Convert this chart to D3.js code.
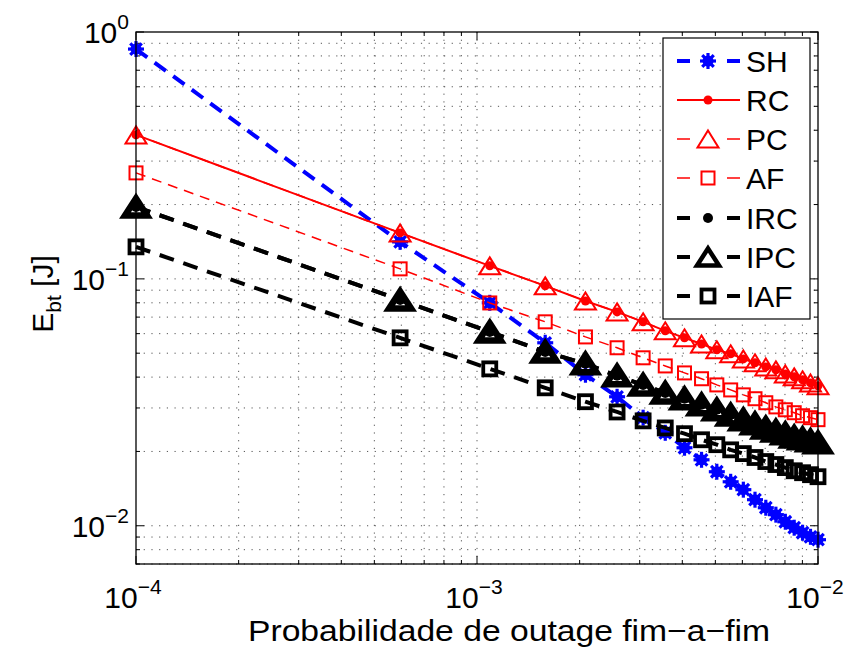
<!DOCTYPE html>
<html><head><meta charset="utf-8">
<script src="https://cdn.jsdelivr.net/npm/d3@7"></script>
<style>body{margin:0;background:#fff}svg{display:block}text{font-family:"Liberation Sans",Arial,sans-serif}</style>
</head><body>
<svg id="c" width="851" height="654"></svg>
<script>
const xValues = [1e-4, 5.95e-4, 1.09e-3, 1.585e-3, 2.08e-3, 2.575e-3, 3.07e-3, 3.565e-3, 4.06e-3, 4.555e-3, 5.05e-3, 5.545e-3, 6.04e-3, 6.535e-3, 7.03e-3, 7.525e-3, 8.02e-3, 8.515e-3, 9.01e-3, 9.505e-3, 1e-2];
const SH  = [0.853, 0.1412, 0.0800, 0.0551, 0.0409, 0.0333, 0.0274, 0.0238, 0.0207, 0.0185, 0.01655, 0.01507, 0.0140, 0.01275, 0.01183, 0.01109, 0.01038, 0.00982, 0.00937, 0.00902, 0.00878];
const RC  = [0.383, 0.1535, 0.1129, 0.0937, 0.0814, 0.0735, 0.0670, 0.0616, 0.0577, 0.0545, 0.0516, 0.0497, 0.0474, 0.0457, 0.0440, 0.0428, 0.0412, 0.0401, 0.0390, 0.0379, 0.0369];
const PC  = [0.383, 0.1535, 0.1129, 0.0937, 0.0814, 0.0735, 0.0670, 0.0616, 0.0577, 0.0545, 0.0516, 0.0497, 0.0474, 0.0457, 0.0440, 0.0428, 0.0412, 0.0401, 0.0390, 0.0379, 0.0369];
const AF  = [0.2687, 0.1098, 0.0799, 0.0670, 0.0582, 0.0526, 0.0479, 0.0444, 0.0416, 0.0394, 0.0372, 0.0355, 0.0339, 0.0327, 0.0315, 0.0303, 0.0295, 0.0287, 0.0279, 0.0274, 0.0269];
const IRC = [0.1956, 0.0822, 0.0610, 0.0506, 0.0453, 0.0405, 0.0372, 0.0345, 0.0327, 0.0309, 0.0295, 0.0281, 0.0269, 0.0259, 0.0249, 0.0242, 0.0236, 0.0229, 0.0225, 0.0221, 0.0217];
const IPC = [0.1956, 0.0822, 0.0610, 0.0506, 0.0453, 0.0405, 0.0372, 0.0345, 0.0327, 0.0309, 0.0295, 0.0281, 0.0269, 0.0259, 0.0249, 0.0242, 0.0236, 0.0229, 0.0225, 0.0221, 0.0217];
const IAF = [0.1348, 0.0577, 0.0432, 0.0362, 0.0318, 0.0289, 0.0266, 0.0249, 0.0236, 0.0223, 0.0213, 0.0203, 0.0196, 0.0189, 0.0182, 0.0177, 0.0172, 0.0167, 0.0164, 0.0161, 0.0158];
const seriesNames = ["SH", "RC", "PC", "AF", "IRC", "IPC", "IAF"];
const xTickExps = ["−4", "−3", "−2"];
const yTickExps = ["−2", "−1", "0"];
const xLabel = "Probabilidade de outage fim−a−fim";

const svg = d3.select("#c");
const L = 136, R = 818, T = 32, B = 564;
const x = d3.scaleLog().domain([1e-4, 1e-2]).range([L, R]);
const y = d3.scaleLog().domain([0.007, 1]).range([B, T]);

// grid
const xMinor = [];
for (let e = -4; e < -2; e++) for (let m = 1; m < 10; m++) xMinor.push(m * Math.pow(10, e));
xMinor.push(1e-2);
const yMinor = [];
for (let e = -3; e < 0; e++) for (let m = 1; m < 10; m++) { const v = m * Math.pow(10, e); if (v >= 0.007) yMinor.push(v); }
yMinor.push(1);
const grid = svg.append("g").attr("stroke", "#555").attr("stroke-width", 1).attr("stroke-dasharray", "1.2,6.5");
xMinor.filter(v => v > 1e-4 && v < 1e-2).forEach(v => grid.append("line").attr("x1", x(v)).attr("x2", x(v)).attr("y1", T).attr("y2", B));
yMinor.filter(v => v < 1).forEach(v => grid.append("line").attr("x1", L).attr("x2", R).attr("y1", y(v)).attr("y2", y(v)));

// ticks (inward, all sides)
const tk = svg.append("g").attr("stroke", "#000").attr("stroke-width", 1);
const isMajor = v => Math.abs(Math.log10(v) - Math.round(Math.log10(v))) < 1e-9;
xMinor.forEach(v => {
  const len = isMajor(v) ? 8 : 4;
  tk.append("line").attr("x1", x(v)).attr("x2", x(v)).attr("y1", B).attr("y2", B - len);
  tk.append("line").attr("x1", x(v)).attr("x2", x(v)).attr("y1", T).attr("y2", T + len);
});
yMinor.forEach(v => {
  const len = isMajor(v) ? 8 : 4;
  tk.append("line").attr("x1", L).attr("x2", L + len).attr("y1", y(v)).attr("y2", y(v));
  tk.append("line").attr("x1", R).attr("x2", R - len).attr("y1", y(v)).attr("y2", y(v));
});

// axis tick labels
[1e-4, 1e-3, 1e-2].forEach((v, i) => {
  const t = svg.append("text").attr("x", x(v) - 3).attr("y", 608).attr("text-anchor", "middle").attr("font-size", 30);
  t.append("tspan").text("10");
  t.append("tspan").attr("font-size", 21).attr("dy", -14).text(xTickExps[i]);
});
[0.01, 0.1, 1].forEach((v, i) => {
  const t = svg.append("text").attr("x", 129).attr("y", y(v) + 11).attr("text-anchor", "end").attr("font-size", 30);
  t.append("tspan").text("10");
  t.append("tspan").attr("font-size", 21).attr("dy", -14).text(yTickExps[i]);
});

// axis labels
svg.append("text").attr("x", 248).attr("y", 641).attr("font-size", 30)
  .attr("textLength", 522).attr("lengthAdjust", "spacingAndGlyphs").text(xLabel);
const yl = svg.append("text").attr("transform", `translate(53,${(T + B) / 2 - 4}) rotate(-90)`).attr("text-anchor", "middle").attr("font-size", 30);
yl.append("tspan").text("E");
yl.append("tspan").attr("font-size", 21).attr("dy", 8).text("bt");
yl.append("tspan").attr("dy", -8).text(" [J]");

// marker drawing
function marker(g, type, cx, cy, color, sw) {
  if (type === "star") {
    const r = 8;
    [[r, 0], [0, r], [r * 0.72, r * 0.72], [r * 0.72, -r * 0.72]].forEach(([dx, dy]) =>
      g.append("line").attr("x1", cx - dx).attr("y1", cy - dy).attr("x2", cx + dx).attr("y2", cy + dy)
        .attr("stroke", color).attr("stroke-width", sw));
    g.append("circle").attr("cx", cx).attr("cy", cy).attr("r", 5.5).attr("fill", color);
  } else if (type === "dot") {
    g.append("circle").attr("cx", cx).attr("cy", cy).attr("r", sw).attr("fill", color);
  } else if (type === "tri") {
    const w = sw > 2 ? 11 : 10.5, h = 8.5;
    g.append("path").attr("d", `M${cx},${cy - h}L${cx + w},${cy + h}L${cx - w},${cy + h}Z`)
      .attr("fill", "none").attr("stroke", color).attr("stroke-width", sw).attr("stroke-linejoin", "miter");
  } else if (type === "sq") {
    const s = 6.5;
    g.append("rect").attr("x", cx - s).attr("y", cy - s).attr("width", 2 * s).attr("height", 2 * s)
      .attr("fill", "none").attr("stroke", color).attr("stroke-width", sw);
  }
}

const specs = [
  { name: "SH", data: SH, color: "#0000ff", lw: 4, dash: "14,9", mk: "star", msw: 3.2 },
  { name: "RC", data: RC, color: "#ff0000", lw: 2, dash: null, mk: "dot", msw: 4.5 },
  { name: "PC", data: PC, color: "#ff0000", lw: 1.5, dash: "10,7", mk: "tri", msw: 2 },
  { name: "AF", data: AF, color: "#ff0000", lw: 1.5, dash: "10,7", mk: "sq", msw: 2 },
  { name: "IRC", data: IRC, color: "#000000", lw: 4, dash: "15,10", mk: "dot", msw: 5 },
  { name: "IPC", data: IPC, color: "#000000", lw: 4, dash: "15,10", mk: "tri", msw: 6.5 },
  { name: "IAF", data: IAF, color: "#000000", lw: 4, dash: "15,10", mk: "sq", msw: 3.8 }
];

const line = d3.line().x(d => x(d[0])).y(d => y(d[1]));
const plot = svg.append("g");
specs.forEach(s => {
  const pts = xValues.map((v, i) => [v, s.data[i]]);
  plot.append("path").attr("d", line(pts)).attr("fill", "none").attr("stroke", s.color)
    .attr("stroke-width", s.lw).attr("stroke-dasharray", s.dash);
  const mg = plot.append("g");
  pts.forEach(p => marker(mg, s.mk, x(p[0]), y(p[1]), s.color, s.msw));
});

// axes box
svg.append("rect").attr("x", L).attr("y", T).attr("width", R - L).attr("height", B - T)
  .attr("fill", "none").attr("stroke", "#000").attr("stroke-width", 1.3);

// legend
const lg = svg.append("g");
lg.append("rect").attr("x", 663).attr("y", 38).attr("width", 147).attr("height", 281)
  .attr("fill", "#fff").attr("stroke", "#000").attr("stroke-width", 1.2);
const rowY = [61, 100, 139, 178, 218, 257, 296];
specs.forEach((s, i) => {
  const yy = rowY[i];
  if (s.dash) {
    [[677, 690], [727, 740]].forEach(([a, b]) => lg.append("line").attr("x1", a).attr("x2", b).attr("y1", yy).attr("y2", yy)
      .attr("stroke", s.color).attr("stroke-width", s.lw));
  } else {
    lg.append("line").attr("x1", 677).attr("x2", 740).attr("y1", yy).attr("y2", yy).attr("stroke", s.color).attr("stroke-width", s.lw);
  }
  marker(lg, s.mk, 708, yy, s.color, s.name === "IPC" ? 4.5 : s.msw);
  lg.append("text").attr("x", 746).attr("y", yy + 11).attr("font-size", 30).text(seriesNames[i]);
});
</script>
</body></html>
